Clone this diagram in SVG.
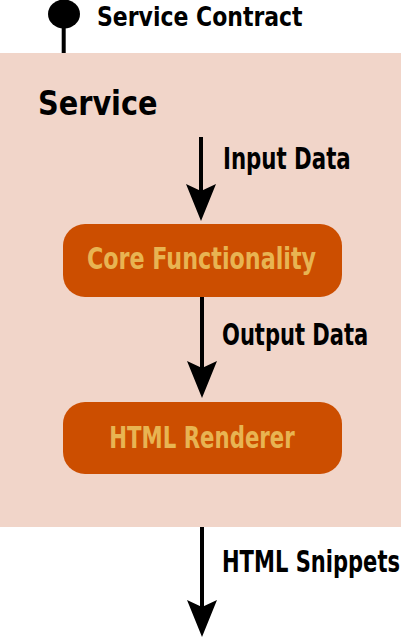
<svg xmlns="http://www.w3.org/2000/svg" width="404" height="637" viewBox="0 0 404 637">
<defs>
<style>
.t{font-family:"DejaVu Sans Condensed","Liberation Sans",sans-serif;font-weight:bold;fill:#000}
.n{fill:#CC4E00}
.nt{font-family:"DejaVu Sans Condensed","Liberation Sans",sans-serif;font-weight:bold;fill:#E8B452;text-anchor:middle}
.c{stroke:#000;stroke-width:4;fill:none}
</style>
<path id="ah" d="M0,0 L-15,-37 L0,-30 L15,-37 Z" fill="#000"/>
</defs>
<rect width="404" height="637" fill="#fff"/>
<g id="service">
<rect x="0" y="53" width="401" height="474" fill="#F1D5C9"/>
<text class="t" transform="translate(38,115) scale(0.94,1)" font-size="34">Service</text>
</g>
<g id="contract">
<ellipse cx="64" cy="14" rx="16" ry="14.5" fill="#000"/>
<line x1="63.7" y1="26" x2="63.7" y2="53" stroke="#000" stroke-width="4"/>
<text class="t" transform="translate(97,26) scale(0.94,1)" font-size="26">Service Contract</text>
</g>
<g id="core">
<rect class="n" x="63" y="224" width="279" height="73" rx="22"/>
<text class="nt" transform="translate(201.5,269) scale(0.825,1)" font-size="30">Core Functionality</text>
</g>
<g id="renderer">
<rect class="n" x="63" y="402" width="279" height="72" rx="22"/>
<text class="nt" transform="translate(202,448) scale(0.763,1)" font-size="31">HTML Renderer</text>
</g>
<g id="connectors">
<line class="c" x1="201" y1="137" x2="201" y2="195"/>
<use href="#ah" transform="translate(201,221)"/>
<line class="c" x1="202" y1="297" x2="202" y2="372"/>
<use href="#ah" transform="translate(202,398)"/>
<line class="c" x1="202" y1="527" x2="202" y2="610"/>
<use href="#ah" transform="translate(202,637)"/>
<text class="t" transform="translate(223,169) scale(0.764,1)" font-size="31">Input Data</text>
<text class="t" transform="translate(222,345) scale(0.78,1)" font-size="30">Output Data</text>
<text class="t" transform="translate(222,572) scale(0.78,1)" font-size="30">HTML Snippets</text>
</g>
</svg>
